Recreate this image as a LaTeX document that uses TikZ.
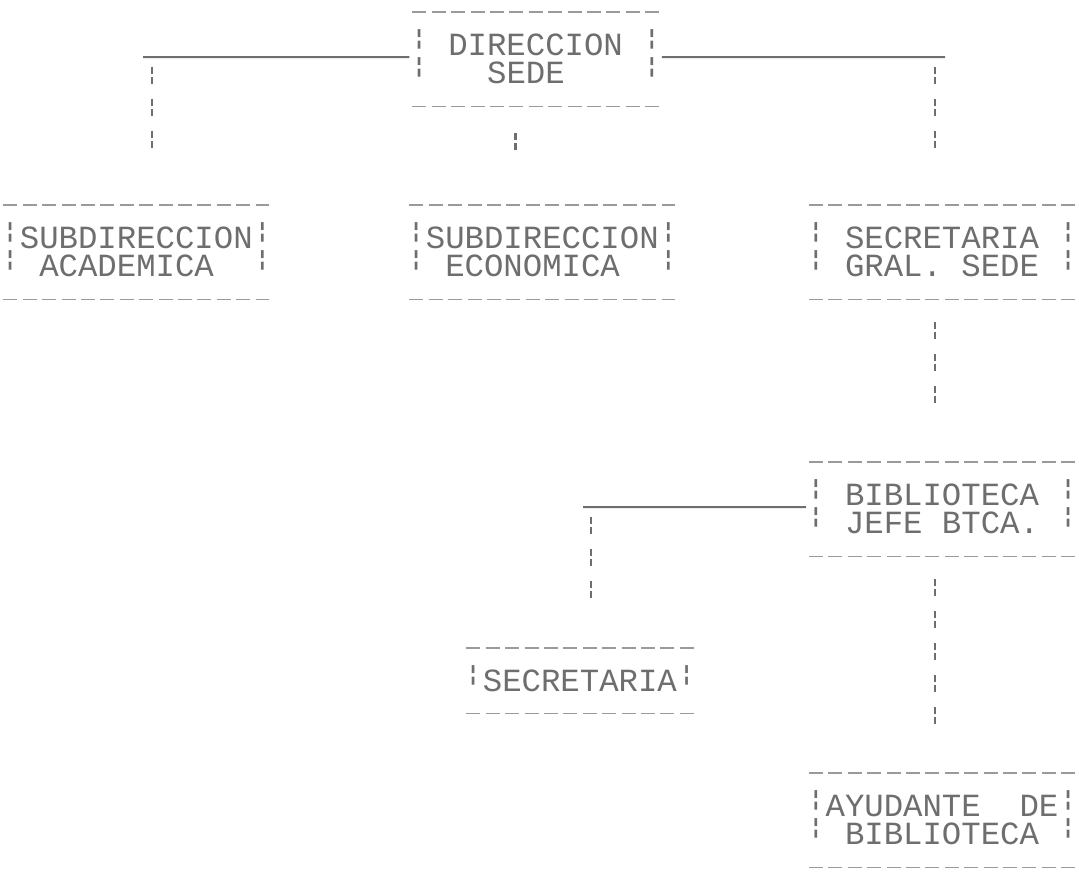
\documentclass[tikz,border=0pt]{standalone}
\usepackage{fontspec}
\usepackage{graphicx}
\newfontfamily\prn{Liberation Mono}
\usetikzlibrary{calc}
\definecolor{ink}{HTML}{6E6E6E}
\definecolor{dashink}{HTML}{9A9A9A}
\newcommand\sq{\phantom{X}}
\newcommand\bb{\smash{\setbox0=\hbox{\bfseries\fontsize{21}{21}\selectfont ¦}\makebox[0.6em]{\raisebox{\dimexpr0.34em-\ht0/2+\dp0/2\relax}{\box0}}}}
\begin{document}
\begin{tikzpicture}[x=1pt,y=-1pt,
  box/.style={inner sep=0pt, minimum height=94pt, anchor=north west, text=ink,
    font=\prn\fontsize{32.33}{28}\selectfont, align=left},
  boxrule/.style={draw=dashink, line width=1.5pt, dash pattern=on 14pt off 5.4pt},
  hline/.style={draw=ink, line width=2pt},
  vbar/.style={draw=ink, line width=2.8pt, dash pattern=on 7pt off 3pt on 7pt off 15pt}]
\fill[white] (0,0) rectangle (1079,873);
\useasboundingbox (0,0) rectangle (1079,873);

\node[box] (A) at (409.3,12) {\bb\sq DIRECCION\sq\bb\\\bb\sq\sq\sq SEDE\sq\sq\sq\sq\bb};
\node[box] (B) at (0.3,205) {\bb SUBDIRECCION\bb\\\bb\sq ACADEMICA\sq\sq\bb};
\node[box] (C) at (406.3,205) {\bb SUBDIRECCION\bb\\\bb\sq ECONOMICA\sq\sq\bb};
\node[box] (D) at (806,205) {\bb\sq SECRETARIA\sq\bb\\\bb\sq GRAL.\sq SEDE\sq\bb};
\node[box] (E) at (806,462) {\bb\sq BIBLIOTECA\sq\bb\\\bb\sq JEFE\sq BTCA.\sq\bb};
\node[box, minimum height=65pt] (F) at (463.3,648) {\bb SECRETARIA\bb};
\node[box] (G) at (806,773) {\bb AYUDANTE\sq\sq DE\bb\\\bb\sq BIBLIOTECA\sq\bb};

\foreach \n in {A,B,C,D,E,F,G}{
  \draw[boxrule] ([xshift=3pt]\n.north west) -- ([xshift=-3pt]\n.north east);
  \draw[boxrule] ([xshift=3pt]\n.south west) -- ([xshift=-3pt]\n.south east);
}

\coordinate (jL) at (152,57);
\coordinate (jR) at (935,57);
\coordinate (jF) at (591,507);

% top level
\draw[hline] ([yshift=2pt]A.west) -- ([xshift=-9pt]jL);
\draw[hline] ([yshift=2pt]A.east) -- ([xshift=10pt]jR);
\draw[vbar, shorten <=9.5pt, shorten >=57.5pt] (jL) -- (jL |- B.north);
\draw[vbar, shorten <=9.5pt, shorten >=57.5pt] (jR) -- (jR |- D.north);
\draw[vbar, shorten <=26.5pt, shorten >=55.5pt] ([xshift=-20pt]A.south) -- ([xshift=-20pt]A.south |- C.north);

% secretaria general -> biblioteca
\draw[vbar, shorten <=22.5pt, shorten >=59.5pt] (D.south -| jR) -- (E.north -| jR);

% biblioteca -> secretaria
\draw[hline] ([yshift=2pt]E.west) -- ([xshift=-8pt]jF);
\draw[vbar, shorten <=9.5pt, shorten >=50.5pt] (jF) -- (jF |- F.north);

% biblioteca -> ayudante
\draw[vbar, shorten <=22.5pt, shorten >=49.5pt] (E.south -| jR) -- (G.north -| jR);
\end{tikzpicture}
\end{document}
